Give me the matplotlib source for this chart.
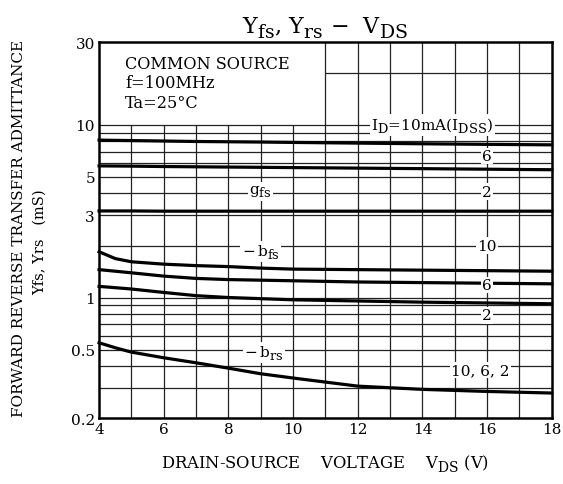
import matplotlib
matplotlib.use("Agg")
import matplotlib.pyplot as plt
import matplotlib._mathtext as mt

plt.rcParams['font.family'] = ['DejaVu Serif']
# the data sheet prints subscripts nearly full size and well below the baseline
mt.SHRINK_FACTOR = 0.85
mt.FontConstantsBase.sub1 = 0.45
mt.FontConstantsBase.sub2 = 0.6

# data (V_DS in V, admittance in mS)
vds = [4, 4.5, 5, 6, 7, 8, 9, 10, 12, 14, 16, 18]
gfs_10 = [8.15, 8.12, 8.1, 8.05, 8.0, 7.97, 7.94, 7.9, 7.83, 7.76, 7.7, 7.65]
gfs_6 = [5.78, 5.77, 5.76, 5.73, 5.71, 5.69, 5.67, 5.65, 5.61, 5.57, 5.53, 5.49]
gfs_2 = [3.17, 3.17, 3.17, 3.16, 3.16, 3.16, 3.16, 3.16, 3.16, 3.16, 3.16, 3.16]
bfs_10 = [1.84, 1.68, 1.61, 1.56, 1.53, 1.51, 1.48, 1.46, 1.45, 1.44, 1.43, 1.42]
bfs_6 = [1.45, 1.42, 1.39, 1.33, 1.29, 1.27, 1.26, 1.25, 1.23, 1.22, 1.21, 1.20]
bfs_2 = [1.16, 1.14, 1.12, 1.07, 1.025, 1.0, 0.985, 0.97, 0.955, 0.94, 0.93, 0.92]
brs_all = [0.547, 0.512, 0.483, 0.448, 0.419, 0.39, 0.362, 0.342, 0.307, 0.294, 0.286, 0.28]

yticks = [0.2, 0.5, 1, 3, 5, 10, 30]
ytick_labels = ['0.2', '0.5', '1', '3', '5', '10', '30']
xticks = [4, 6, 8, 10, 12, 14, 16, 18]

fig = plt.figure(figsize=(5.63, 4.85), dpi=100)
ax = fig.add_axes([0.176, 0.1355, 0.804, 0.7752])
ax.set_yscale('log')
ax.set_xlim(4, 18)
ax.set_ylim(0.2, 30)

# grid, drawn by hand because the top-left corner is kept free
gc = '#222222'
for v in range(5, 18):
    ax.vlines(v, 0.2, 10, color=gc, lw=0.9, zorder=1)
for v in range(11, 18):
    ax.vlines(v, 10, 30, color=gc, lw=0.9, zorder=1)
for h in [0.3, 0.4, 0.5, 0.6, 0.7, 0.8, 0.9, 1, 2, 3, 4, 5, 6, 7, 8, 9, 10]:
    ax.hlines(h, 4, 18, color=gc, lw=0.9, zorder=1)
ax.hlines(20, 11, 18, color=gc, lw=0.9, zorder=1)

for ys in [gfs_10, gfs_6, gfs_2, bfs_10, bfs_6, bfs_2, brs_all]:
    ax.plot(vds, ys, color='black', lw=2.3, zorder=3, clip_on=False)

box = dict(facecolor='white', edgecolor='none', pad=1.0)
fs = 11
ax.text(14.3, 10, r'$\mathregular{I_D}$=10mA($\mathregular{I_{DSS}}$)', ha='center', va='center',
        fontsize=fs, bbox=box, zorder=4)
ax.text(16, 6.6, '6', ha='center', va='center', fontsize=fs, bbox=box, zorder=4)
ax.text(16, 4.1, '2', ha='center', va='center', fontsize=fs, bbox=box, zorder=4)
ax.text(16, 2.0, '10', ha='center', va='center', fontsize=fs, bbox=box, zorder=4)
ax.text(16, 1.18, '6', ha='center', va='center', fontsize=fs, bbox=box, zorder=4)
ax.text(16, 0.79, '2', ha='center', va='center', fontsize=fs, bbox=box, zorder=4)
ax.text(15.8, 0.38, '10, 6, 2', ha='center', va='center', fontsize=fs, bbox=box, zorder=4)
ax.text(9.0, 4.1, r'$\mathregular{g_{fs}}$', ha='center', va='center', fontsize=fs, bbox=box, zorder=4)
ax.text(9.0, 1.85, r'$\mathregular{-\,b_{fs}}$', ha='center', va='center', fontsize=fs, bbox=box, zorder=4)
ax.text(9.1, 0.48, r'$\mathregular{-\,b_{rs}}$', ha='center', va='center', fontsize=fs, bbox=box, zorder=4)

ax.text(4.8, 25.5, 'COMMON SOURCE\nf=100MHz\nTa=25°C', ha='left', va='top',
        fontsize=11.6, linespacing=1.2)

ax.set_xticks(xticks)
ax.set_xticklabels([str(x) for x in xticks])
ax.set_yticks(yticks)
ax.set_yticklabels(ytick_labels)
ax.yaxis.set_minor_locator(matplotlib.ticker.NullLocator())
ax.tick_params(length=0, labelsize=11, pad=3)
for s in ax.spines.values():
    s.set_linewidth(1.8)

ax.set_title(r'$\mathregular{Y_{fs}}$, $\mathregular{Y_{rs}}$ $-$  $\mathregular{V_{DS}}$', fontsize=16, pad=7)
ax.set_xlabel(r'DRAIN-SOURCE    VOLTAGE    $\mathregular{V_{DS}}$ (V)', fontsize=11.8, labelpad=12)
fig.text(0.034, 0.53, 'FORWARD REVERSE TRANSFER ADMITTANCE', rotation=90, ha='center', va='center', fontsize=11)
fig.text(0.071, 0.5, 'Yfs, Yrs   (mS)', rotation=90, ha='center', va='center', fontsize=10.5)

fig.savefig('out.png', dpi=100)
